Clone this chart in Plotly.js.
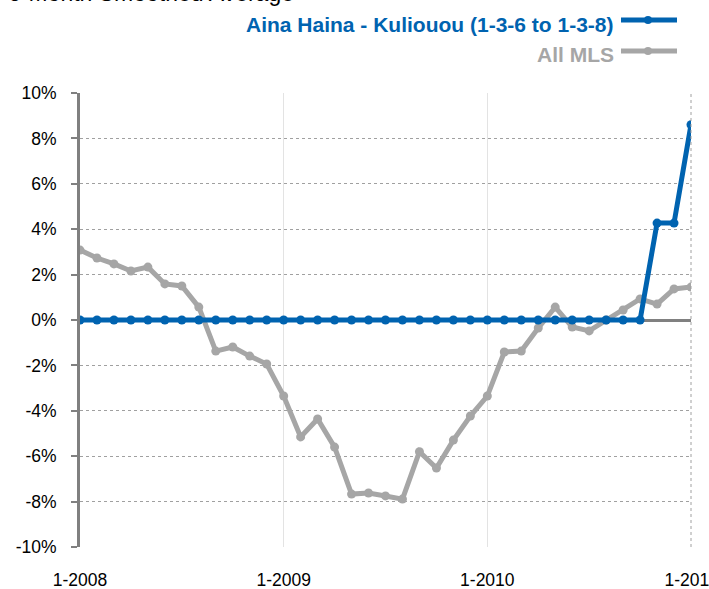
<!DOCTYPE html>
<html>
<head>
<meta charset="utf-8">
<script src="https://cdn.plot.ly/plotly-3.0.1.min.js"></script>
<style>html,body{margin:0;padding:0;background:#fff;}#chart{width:709px;height:589px;}</style>
</head>
<body>
<div id="chart"></div>
<script>
// ---- data ----
const months = [];
for (let y = 2008; y <= 2011; y++) {
  for (let m = 1; m <= 12; m++) {
    if (y === 2011 && m > 1) break;
    months.push(m + '-' + y);
  }
}
const seriesNames = ['Aina Haina - Kuliouou (1-3-6 to 1-3-8)', 'All MLS'];
const ainaHaina = [0,0,0,0,0,0,0,0,0,0,0,0,
                   0,0,0,0,0,0,0,0,0,0,0,0,
                   0,0,0,0,0,0,0,0,0,0,4.27,4.27,
                   8.6];
const allMLS = [3.08,2.73,2.47,2.16,2.33,1.59,1.50,0.57,-1.37,-1.19,-1.59,-1.94,
                -3.35,-5.15,-4.36,-5.60,-7.67,-7.62,-7.75,-7.89,-5.80,-6.52,-5.29,-4.23,
                -3.35,-1.41,-1.37,-0.35,0.57,-0.31,-0.48,0.00,0.44,0.93,0.70,1.37,
                1.45];
const xTickVals = ['1-2008','1-2009','1-2010','1-2011'];
const yTickVals = [-10,-8,-6,-4,-2,0,2,4,6,8,10];
const yTickText = ['-10%','-8%','-6%','-4%','-2%','0%','2%','4%','6%','8%','10%'];
const chartTitle = '6-Month Smoothed Average';

// ---- styles ----
const BLUE = '#0063B0';
const GRAY = '#A6A6A6';
const FONT = 'Liberation Sans, Arial, sans-serif';

const traces = [
  {x: months, y: allMLS, name: seriesNames[1], type: 'scatter', mode: 'lines+markers',
   line: {color: GRAY, width: 5}, marker: {color: GRAY, size: 9}, showlegend: false},
  {x: months, y: ainaHaina, name: seriesNames[0], type: 'scatter', mode: 'lines+markers',
   line: {color: BLUE, width: 5}, marker: {color: BLUE, size: 9}, showlegend: false}
];

const plotL = 80, plotR = 691, plotT = 93, plotB = 547;
const pw = plotR - plotL, ph = plotB - plotT;
function px(xpix){ return (xpix - plotL) / pw; }
function py(ypix){ return (plotB - ypix) / ph; }

const legendRows = [
  {text: seriesNames[0], color: BLUE, yt: 24.5, yl: 20},
  {text: seriesNames[1], color: GRAY, yt: 54, yl: 51}
];
const shapes = [
  {type: 'line', xref: 'paper', yref: 'paper', x0: 1, x1: 1, y0: 0, y1: 1,
   line: {color: '#A0A0A0', width: 1, dash: 'dot'}}
];
const annotations = [
  {text: chartTitle, xref: 'paper', yref: 'paper', x: px(6), y: py(8), xanchor: 'left', yanchor: 'bottom',
   showarrow: false, font: {family: FONT, size: 23, color: '#000'}}
];
legendRows.forEach(r => {
  annotations.push({text: '<b>' + r.text + '</b>', xref: 'paper', yref: 'paper', x: px(616), y: py(r.yt),
    xanchor: 'right', yanchor: 'middle', showarrow: false, font: {family: FONT, size: 21, color: r.color}});
  shapes.push({type: 'line', xref: 'paper', yref: 'paper', x0: px(621), x1: px(677), y0: py(r.yl), y1: py(r.yl),
    line: {color: r.color, width: 5}});
  shapes.push({type: 'circle', xref: 'paper', yref: 'paper', x0: px(644), x1: px(652), y0: py(r.yl - 4), y1: py(r.yl + 4),
    fillcolor: r.color, line: {width: 0}});
});

const layout = {
  width: 709, height: 589,
  margin: {l: plotL, r: 709 - plotR, t: plotT, b: 589 - plotB, pad: 0},
  paper_bgcolor: '#fff', plot_bgcolor: '#fff',
  showlegend: false,
  font: {family: FONT, size: 17.5, color: '#000'},
  xaxis: {
    type: 'category', range: [0, months.length - 1],
    tickmode: 'array', tickvals: xTickVals, ticktext: xTickVals,
    showgrid: true, gridcolor: '#E3E3E3', gridwidth: 1,
    zeroline: false, showline: false, ticks: '',
    ticklabelstandoff: 20,
    tickfont: {family: FONT, size: 17.5, color: '#000'}
  },
  yaxis: {
    range: [-10, 10], tickmode: 'array', tickvals: yTickVals, ticktext: yTickText,
    showgrid: true, gridcolor: '#A0A0A0', gridwidth: 1, griddash: 'dot',
    zeroline: true, zerolinecolor: '#808080', zerolinewidth: 3,
    showline: true, linecolor: '#808080', linewidth: 3,
    ticks: 'outside', ticklen: 6, tickwidth: 2, tickcolor: '#808080',
    ticklabelstandoff: 11,
    tickfont: {family: FONT, size: 17.5, color: '#000'}
  },
  shapes: shapes,
  annotations: annotations
};

Plotly.newPlot('chart', traces, layout, {displayModeBar: false, staticPlot: true});
</script>
</body>
</html>
